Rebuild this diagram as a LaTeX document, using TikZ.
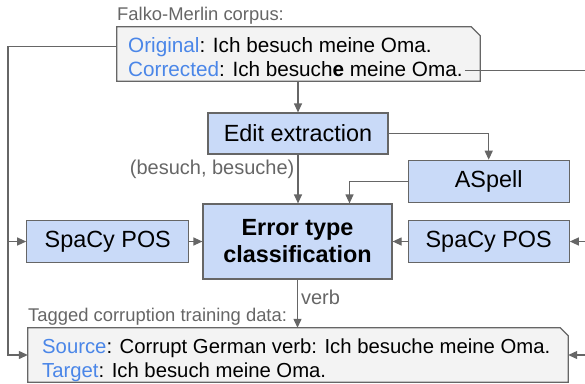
\documentclass[tikz,border=0pt]{standalone}
\usepackage{fontspec}
\setmainfont{Liberation Sans}
\usetikzlibrary{arrows.meta, positioning}
\definecolor{boxblue}{HTML}{C9DAF8}
\definecolor{corpusgray}{HTML}{F3F3F3}
\definecolor{linegray}{HTML}{666666}
\definecolor{fieldblue}{HTML}{4A86E8}
\newcommand{\fieldname}[1]{\textcolor{fieldblue}{#1}}

\begin{document}
\begin{tikzpicture}[
            x = 1pt,
            y = -1pt,
            > = {Triangle[length=9pt, width=8pt]},
            arr/.style = {->, draw=linegray, line width=1.2pt},
            tool/.style = {draw=linegray, line width=1.2pt, fill=boxblue, inner sep=0pt,
                           font=\fontsize{23.4}{28}\selectfont},
            corpus/.style = {draw=linegray, line width=1.2pt, fill=corpusgray},
            corpustext/.style = {anchor=base west, inner sep=2pt, text height=15pt, text depth=4pt,
                                 font=\fontsize{20.7}{24}\selectfont},
            caption/.style = {anchor=base west, inner sep=0pt, text=linegray,
                              font=\fontsize{18.4}{22}\selectfont},
            edgelabel/.style = {inner sep=3pt, text=linegray, font=\fontsize{20}{24}\selectfont}
        ]
        \useasboundingbox (0,0) rectangle (585,383);

        % corpus sentence pair
        \node[minimum width=363pt, minimum height=54pt, inner sep=0pt] (top) at (298.5,54) {};
        \draw[corpus] (top.south west) -- (top.north west) -- ([xshift=-9pt]top.north east)
            -- ([yshift=-9pt]top.north east) -- (top.south east) -- cycle;
        \node[caption] (corpuscap) at (117,20) {Falko-Merlin corpus:};
        \node[corpustext] (orig) at (126,52) {\fieldname{Original}: Ich besuch meine Oma.};
        \node[corpustext] (corr) at (126,76) {\fieldname{Corrected}: Ich besuch\textbf{e} meine Oma.};

        % pipeline
        \node[tool, minimum width=180pt, minimum height=41pt] (edit) at (298,133.5) {Edit extraction};
        \node[tool, minimum width=189pt, minimum height=75pt, align=center,
              font=\fontsize{23.4}{27}\selectfont\bfseries] (err) at (297.5,241.5) {Error type\\classification};
        \node[tool, minimum width=162pt, minimum height=42pt, left=13pt of err] (spl) {SpaCy POS};
        \node[tool, minimum width=161pt, minimum height=42pt, right=15pt of err] (spr) {SpaCy POS};
        \node[tool, minimum width=161pt, minimum height=42pt, above=17pt of spr] (aspell) {ASpell};

        % training data
        \node[minimum width=540pt, minimum height=54pt, inner sep=0pt] (bot) at (298,355) {};
        \draw[corpus] (bot.south west) -- (bot.north west) -- ([xshift=-8pt]bot.north east)
            -- ([yshift=-8pt]bot.north east) -- (bot.south east) -- cycle;
        \node[caption] (datacap) at (28,321) {Tagged corruption training data:};
        \node[corpustext, font=\fontsize{20.3}{24}\selectfont] (src) at (40,353)
            {\fieldname{Source}: Corrupt German verb: Ich besuche meine Oma.};
        \node[corpustext, font=\fontsize{20.3}{24}\selectfont] (tgt) at (40,377)
            {\fieldname{Target}: Ich besuch meine Oma.};

        % connectors
        \coordinate (lrail) at (8,0);
        \coordinate (rrail) at (600,0);
        \draw[arr] (top.west |- orig.west) -- (lrail |- orig.west) -- (lrail |- bot.west) -- (bot.west);
        \draw[arr] (lrail |- spl.west) -- (spl.west);
        \draw[arr] (corr.east) -- (rrail |- corr.east) -- (rrail |- bot.east) -- (bot.east);
        \draw[arr] (rrail |- spr.east) -- (spr.east);
        \draw[arr] (edit.north |- top.south) -- (edit.north);
        \draw[arr] (edit.east) -| (aspell.north);
        \draw[arr] (aspell.west) -| ([xshift=52pt]err.north);
        \draw[arr] (edit.south) -- node[edgelabel, left, pos=0.3] {(besuch, besuche)} (err.north -| edit.south);
        \draw[arr] (spl.east) -- (spl.east -| err.west);
        \draw[arr] (spr.west) -- (spr.west -| err.east);
        \draw[arr] (err.south) -- node[edgelabel, right, pos=0.375] {verb} (err.south |- bot.north);
    \end{tikzpicture}
\end{document}
